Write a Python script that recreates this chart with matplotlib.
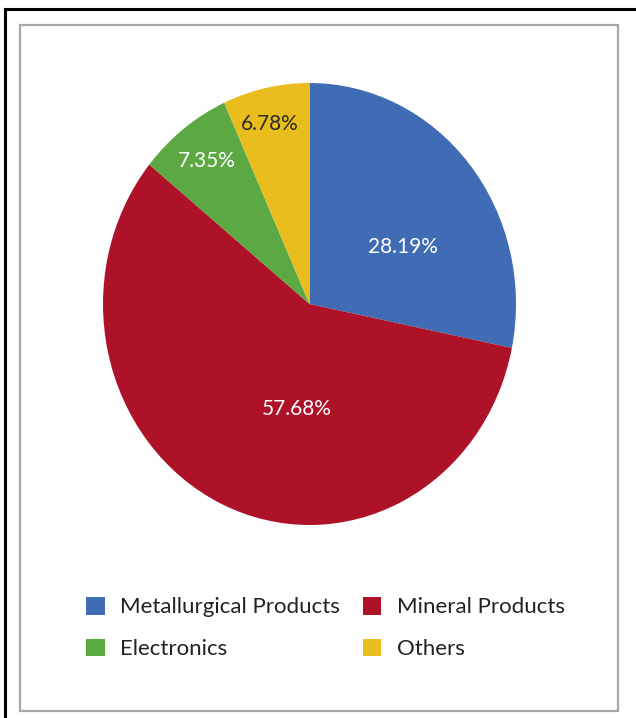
import matplotlib
matplotlib.use("Agg")
import matplotlib.pyplot as plt
from matplotlib.patches import Rectangle, Patch
import numpy as np

categories = ["Metallurgical Products", "Mineral Products", "Electronics", "Others"]
shares = [28.19, 57.68, 7.35, 6.78]
colors = ["#3F6CB4", "#AE1228", "#5CA944", "#E9BD1E"]
label_colors = ["white", "white", "white", "#2b2b2b"]
# label placement (radius fraction, angle offset from wedge middle, degrees)
label_radius = [0.52, 0.48, 0.815, 0.835]
label_angle_offset = [-9.8, 17.9, 0.0, 1.0]

W, H = 636, 718
fig = plt.figure(figsize=(W / 100, H / 100), dpi=100)
fig.patch.set_facecolor("white")

# frames
fig.add_artist(plt.Line2D([5 / W, 5 / W], [0, 1 - 9 / H], color="black", lw=2.2, transform=fig.transFigure))
fig.add_artist(plt.Line2D([5 / W, 1], [1 - 9 / H, 1 - 9 / H], color="black", lw=2.2, transform=fig.transFigure))
fig.add_artist(Rectangle((20 / W, 1 - 711 / H), (618 - 20) / W, (711 - 25) / H, fill=False,
                         edgecolor="#a8a8a8", lw=1.6, transform=fig.transFigure))

ax = fig.add_axes([103 / W, 1 - 525 / H, (516 - 103) / W, (525 - 83) / H])
wedges, _ = ax.pie(shares, colors=colors, startangle=90, counterclock=False, radius=1,
                   wedgeprops=dict(linewidth=0))
ax.set_aspect("auto")
ax.set_xlim(-1, 1)
ax.set_ylim(-1, 1)
ax.axis("off")

font = "Lato"
for w, val, r, off, c in zip(wedges, shares, label_radius, label_angle_offset, label_colors):
    mid = np.deg2rad((w.theta1 + w.theta2) / 2 + off)
    ax.text(r * np.cos(mid), r * np.sin(mid), f"{val:.2f}%", ha="center", va="center",
            color=c, fontsize=15, family=font)

handles = [Patch(facecolor=c, edgecolor="none") for c in colors]
order = [0, 2, 1, 3]
fig.legend([handles[i] for i in order], [categories[i] for i in order], ncol=2,
           loc="center left", bbox_to_anchor=(66 / W, 1 - 628 / H), frameon=False,
           prop=dict(family=font, size=16), handlelength=0.85, handleheight=0.85,
           handletextpad=0.7, columnspacing=1.0, labelspacing=0.95, labelcolor="#222222")

fig.savefig("out.png", dpi=100, facecolor="white")
